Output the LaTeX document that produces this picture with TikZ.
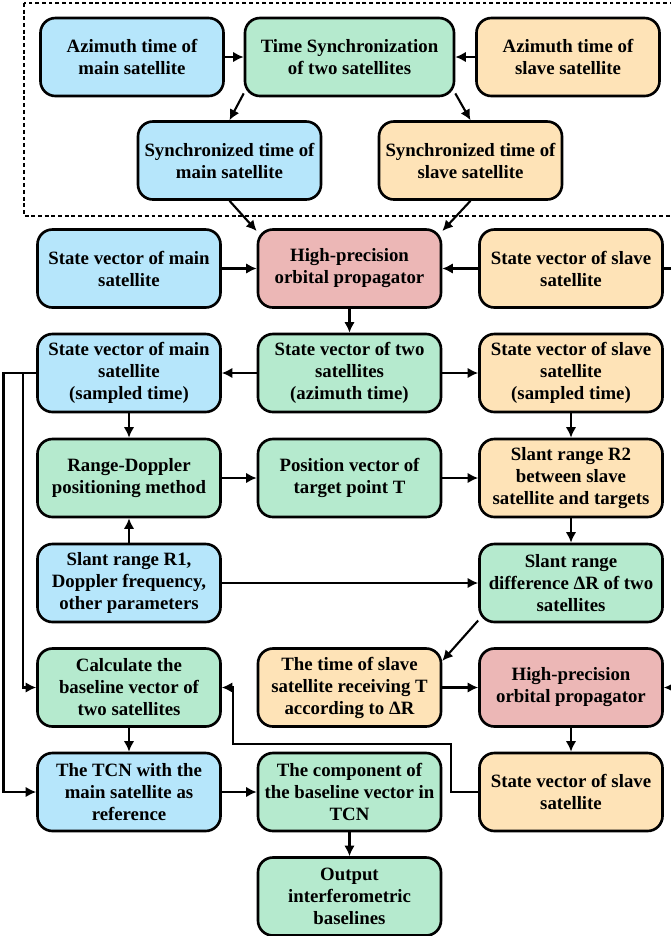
\documentclass[tikz,border=0pt]{standalone}
\usepackage{fontspec}
\setmainfont{Liberation Serif}
\usetikzlibrary{arrows.meta}
\definecolor{mainblue}{RGB}{182,230,251}
\definecolor{bothgreen}{RGB}{181,234,206}
\definecolor{slaveorange}{RGB}{254,227,183}
\definecolor{proppink}{RGB}{236,183,182}
\tikzset{
	box/.style={draw=black, line width=1.5pt, rounded corners=8.5pt, minimum width=3.66cm, minimum height=1.56cm, align=center, inner sep=1pt, font=\fontsize{10.7}{12.5}\selectfont\bfseries},
	mainbox/.style={box, fill=mainblue},
	bothbox/.style={box, fill=bothgreen},
	slavebox/.style={box, fill=slaveorange},
	propbox/.style={box, fill=proppink},
	arr/.style={line width=1.2pt, -{Latex[length=6pt,width=6pt]}},
}

\begin{document}
\begin{tikzpicture}
		%%%%% START %%%%%
		\useasboundingbox (0, 0) rectangle (13.42, -18.72);
		
		\draw[line width=1.5pt, dash pattern=on 2.2pt off 1.6pt] (0.48, -0.06) rectangle (14, -4.32);
		
		\node[mainbox] (azm) at (2.64, -1.14) {Azimuth time of\\main satellite};
		\node[bothbox, minimum width=4.18cm] (tsync) at (6.99, -1.14) {Time Synchronization\\of two satellites};
		\node[slavebox] (azs) at (11.36, -1.14) {Azimuth time of\\slave satellite};
		\node[mainbox] (syncm) at (4.59, -3.21) {Synchronized time of\\main satellite};
		\node[slavebox] (syncs) at (9.41, -3.21) {Synchronized time of\\slave satellite};
		
		\node[mainbox] (stm) at (2.58, -5.37) {State vector of main\\satellite};
		\node[propbox] (prop) at (6.99, -5.37) {High-precision\\orbital propagator};
		\node[slavebox] (sts) at (11.42, -5.37) {State vector of slave\\satellite};
		
		\node[mainbox] (msamp) at (2.58, -7.46) {State vector of main\\satellite\\(sampled time)};
		\node[bothbox] (stwo) at (6.99, -7.46) {State vector of two\\satellites\\(azimuth time)};
		\node[slavebox] (ssamp) at (11.42, -7.46) {State vector of slave\\satellite\\(sampled time)};
		
		\node[bothbox] (rd) at (2.58, -9.56) {Range-Doppler\\positioning method};
		\node[bothbox] (pos) at (6.99, -9.56) {Position vector of\\target point T};
		\node[slavebox] (r2) at (11.42, -9.56) {Slant range R2\\between slave\\satellite and targets};
		
		\node[mainbox] (r1) at (2.58, -11.66) {Slant range R1,\\Doppler frequency,\\other parameters};
		\node[bothbox] (diff) at (11.42, -11.66) {Slant range\\difference ΔR of two\\satellites};
		
		\node[bothbox] (calc) at (2.58, -13.75) {Calculate the\\baseline vector of\\two satellites};
		\node[slavebox] (trecv) at (6.99, -13.75) {The time of slave\\satellite receiving T\\according to ΔR};
		\node[propbox] (prop2) at (11.42, -13.75) {High-precision\\orbital propagator};
		
		\node[mainbox] (tcn) at (2.58, -15.84) {The TCN with the\\main satellite as\\reference};
		\node[bothbox] (comp) at (6.99, -15.84) {The component of\\the baseline vector in\\TCN};
		\node[slavebox] (sts2) at (11.42, -15.84) {State vector of slave\\satellite};
		
		\node[bothbox] (out) at (6.99, -17.93) {Output\\interferometric\\baselines};
		
		% time synchronization
		\draw[arr] (azm) -- (tsync);
		\draw[arr] (azs) -- (tsync);
		\draw[arr] (tsync.199) -- (syncm.north);
		\draw[arr] (tsync.-19) -- (syncs.north);
		\draw[arr] (syncm.south) -- (prop.158);
		\draw[arr] (syncs.south) -- (prop.22);
		
		% propagation
		\draw[arr] (stm) -- (prop);
		\draw[arr] (sts) -- (prop);
		\draw[arr] (prop) -- (stwo);
		\draw[arr] (stwo) -- (msamp);
		\draw[arr] (stwo) -- (ssamp);
		
		% positioning
		\draw[arr] (msamp) -- (rd);
		\draw[arr] (r1) -- (rd);
		\draw[arr] (rd) -- (pos);
		\draw[arr] (pos) -- (r2);
		\draw[arr] (ssamp) -- (r2);
		\draw[arr] (r2) -- (diff);
		\draw[arr] (r1) -- (diff);
		\draw[arr] (diff.202) -- (trecv.16);
		\draw[arr] (trecv) -- (prop2);
		\draw[arr] (prop2) -- (sts2);
		
		% loop on the right
		\coordinate (rtop) at (13.7, -5.37);
		\coordinate (rbot) at (13.7, -13.75);
		\draw[arr] (sts.east) -- (rtop) -- (rbot) -- (prop2.east);
		
		% loops on the left
		\coordinate (lout) at (0.07, -7.46);
		\coordinate (lin) at (0.46, -7.46);
		\draw[arr] (msamp.west) -- (lout) |- (tcn.west);
		\draw[arr] (lin) |- (calc.west);
		
		% back to the baseline
		\coordinate (bk1) at (9.02, -15.84);
		\coordinate (bk2) at (4.66, -14.88);
		\draw[arr] (sts2.west) -- (bk1) |- (bk2) |- (calc.east);
		
		\draw[arr] (calc) -- (tcn);
		\draw[arr] (tcn) -- (comp);
		\draw[arr] (comp) -- (out);
		
		%%%%% END %%%%%
	\end{tikzpicture}
\end{document}
